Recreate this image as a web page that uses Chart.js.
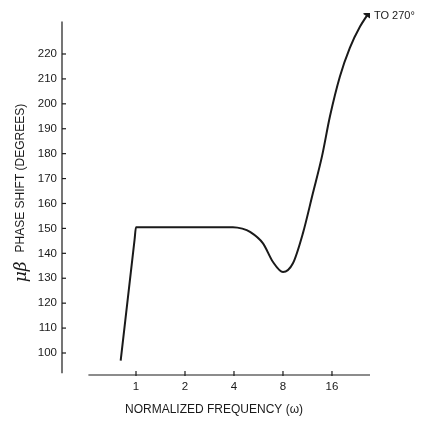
<!DOCTYPE html>
<html>
<head>
<meta charset="utf-8">
<script src="https://cdn.jsdelivr.net/npm/chart.js@4/dist/chart.umd.min.js"></script>
<style>
html,body{margin:0;padding:0;background:#fff;}
#wrap{width:421px;height:421px;}
</style>
</head>
<body>
<div id="wrap"><canvas id="c" width="421" height="421"></canvas></div>
<script>
// ---- data ----
const freq  = [0.805, 0.98, 1, 2, 3, 3.94, 4.5, 5.02, 6.03, 6.95, 8, 9.21, 10.6, 12.2, 13.9, 15.55, 17.9, 20.6, 23.8, 26.6];
const phase = [96.9, 145.5, 150.5, 150.5, 150.5, 150.5, 149.9, 148.6, 144, 136.5, 132.5, 136, 148, 164, 179, 195, 211, 222.5, 231, 236];
const xTicks = [1, 2, 4, 8, 16];
const yTicks = [100, 110, 120, 130, 140, 150, 160, 170, 180, 190, 200, 210, 220];
const xTitle = "NORMALIZED FREQUENCY (\u03c9)";
const yTitleSym = "\u03bc\u03b2";
const yTitle = "PHASE SHIFT (DEGREES)";
const endNote = "TO 270\u00b0";

const ink = "#1a1a1a";
const lastIdx = freq.length - 1;
const FONT = "'Liberation Sans', Arial, sans-serif";

const overlay = {
  id: 'overlay',
  afterDraw(chart) {
    const ctx = chart.ctx;
    const xs = chart.scales.x, ys = chart.scales.y;
    const area = chart.chartArea;
    ctx.save();
    ctx.strokeStyle = ink;
    ctx.lineWidth = 1.2;
    // y axis line
    const ax = area.left;
    ctx.beginPath();
    ctx.moveTo(ax, ys.getPixelForValue(233));
    ctx.lineTo(ax, ys.getPixelForValue(91.9));
    ctx.stroke();
    // y tick marks (pointing inward)
    yTicks.forEach(v => {
      const py = ys.getPixelForValue(v);
      ctx.beginPath();
      ctx.moveTo(ax, py);
      ctx.lineTo(ax + 4, py);
      ctx.stroke();
    });
    // x axis line (detached from y axis)
    const by = area.bottom;
    ctx.beginPath();
    ctx.moveTo(xs.getPixelForValue(0.51), by);
    ctx.lineTo(area.right, by);
    ctx.stroke();
    xTicks.forEach(v => {
      const px = xs.getPixelForValue(v);
      ctx.beginPath();
      ctx.moveTo(px, by + 1);
      ctx.lineTo(px, by - 4);
      ctx.stroke();
    });
    // x title
    ctx.fillStyle = ink;
    ctx.font = "12px " + FONT;
    ctx.textAlign = "center";
    ctx.textBaseline = "middle";
    ctx.fillText(xTitle, 214, 410);
    // end note
    const lp = chart.getDatasetMeta(0).data[lastIdx];
    ctx.font = "11px " + FONT;
    ctx.textAlign = "left";
    ctx.textBaseline = "middle";
    ctx.fillText(endNote, lp.x + 6, lp.y + 2);
    // y title (rotated, reading upward)
    ctx.translate(21, 193);
    ctx.rotate(-Math.PI / 2);
    ctx.font = "12px " + FONT;
    const wRest = ctx.measureText(yTitle).width;
    ctx.font = "italic 17px 'DejaVu Serif', serif";
    const wSym = ctx.measureText(yTitleSym).width;
    const gap = 9;
    const sx = -(wSym + gap + wRest) / 2;
    ctx.textAlign = "left";
    ctx.textBaseline = "middle";
    ctx.fillText(yTitleSym, sx, 1);
    ctx.font = "12px " + FONT;
    ctx.fillText(yTitle, sx + wSym + gap, 0);
    ctx.restore();
  }
};

new Chart(document.getElementById('c'), {
  type: 'line',
  data: {
    datasets: [{
      data: freq.map((f, i) => ({x: f, y: phase[i]})),
      borderColor: ink,
      backgroundColor: ink,
      borderWidth: 2,
      cubicInterpolationMode: 'monotone',
      pointRadius: freq.map((f, i) => i === lastIdx ? 5 : 0),
      pointStyle: 'triangle',
      pointRotation: 34,
      pointBorderWidth: 0,
      fill: false
    }]
  },
  options: {
    responsive: false,
    animation: false,
    devicePixelRatio: 1,
    layout: {padding: {top: 13, right: 51, left: 0, bottom: 0}},
    plugins: {legend: {display: false}, tooltip: {enabled: false}},
    scales: {
      x: {
        type: 'logarithmic',
        min: 0.351, max: 27.4,
        afterBuildTicks: s => { s.ticks = xTicks.map(v => ({value: v})); },
        afterFit: s => { s.height = 46; },
        grid: {display: false, drawTicks: false},
        border: {display: false},
        ticks: {
          autoSkip: false, maxRotation: 0, padding: 5,
          color: ink,
          font: {family: FONT, size: 11.5},
          callback: v => String(v)
        }
      },
      y: {
        type: 'linear',
        min: 91.17, max: 236.45,
        afterBuildTicks: s => { s.ticks = yTicks.map(v => ({value: v})); },
        afterFit: s => { s.width = 62; },
        grid: {display: false, drawTicks: false},
        border: {display: false},
        ticks: {
          padding: 5,
          color: ink,
          font: {family: FONT, size: 11.5}
        }
      }
    }
  },
  plugins: [overlay]
});
</script>
</body>
</html>
